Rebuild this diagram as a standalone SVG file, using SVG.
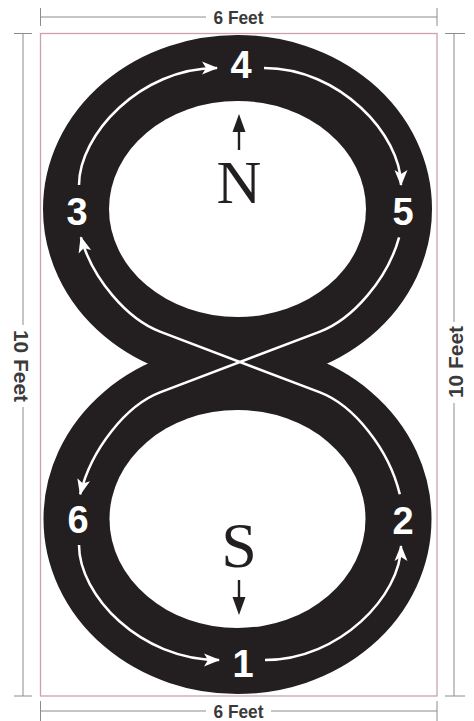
<svg xmlns="http://www.w3.org/2000/svg" width="474" height="721" viewBox="0 0 474 721">
<style>
.dim{stroke:#8c8c8c;stroke-width:1;fill:none}
.dimtxt{font-family:"Liberation Sans",Arial,sans-serif;font-weight:bold;fill:#3a3a3a;text-anchor:middle}
.loop{fill:#fff;stroke:#231f20;stroke-width:132;paint-order:stroke}
.route{fill:none;stroke:#fff;stroke-width:2.5}
.num{font-family:"Liberation Sans",Arial,sans-serif;font-weight:bold;font-size:38px;fill:#fff;text-anchor:middle}
.dir{font-family:"Liberation Serif","Times New Roman",serif;fill:#231f20;text-anchor:middle}
</style>
<defs>
<marker id="wa" markerUnits="userSpaceOnUse" markerWidth="20" markerHeight="16" viewBox="-17 -8 20 16" refX="0" refY="0" orient="auto">
<path d="M1,0 L-15,-6.5 L-11,0 L-15,6.5 Z" fill="#fff"/>
</marker>
</defs>
<rect width="474" height="721" fill="#fff"/>
<g id="frame">
<rect x="40.5" y="33.5" width="396.5" height="662.5" fill="#fff" stroke="#c9a3a9" stroke-width="1.3"/>
</g>
<g id="dimensions">
<path class="dim" d="M40.5 17H206M271 17H437M40.5 8V26M437 8V26"/>
<text class="dimtxt" x="238.5" y="24" font-size="19" textLength="50" lengthAdjust="spacingAndGlyphs">6 Feet</text>
<path class="dim" d="M40.5 711H206M271 711H437M40.5 701V721M437 701V721"/>
<text class="dimtxt" x="238.5" y="718" font-size="18" textLength="50" lengthAdjust="spacingAndGlyphs">6 Feet</text>
<path class="dim" d="M14 33.5H32M23 33.5V325M23 407V696M14 696H32"/>
<text class="dimtxt" transform="translate(22,366) rotate(90)" x="0" y="8" font-size="21" textLength="72" lengthAdjust="spacingAndGlyphs">10 Feet</text>
<path class="dim" d="M445 33.5H465M454 33.5V322M454 403V696M445 696H465"/>
<text class="dimtxt" transform="translate(455,362) rotate(-90)" x="0" y="8" font-size="21" textLength="72" lengthAdjust="spacingAndGlyphs">10 Feet</text>
</g>
<g id="track">
<ellipse class="loop" cx="237.5" cy="209" rx="128.5" ry="108"/>
<ellipse class="loop" cx="237.5" cy="519" rx="128" ry="109"/>
</g>
<g id="connectors">
<path class="route" marker-end="url(#wa)" d="M79 185C79 135 140 68 217 68"/>
<path class="route" marker-end="url(#wa)" d="M264 68C340 68 401 135 401 185"/>
<path class="route" marker-end="url(#wa)" d="M399.1 237.3C387.6 279 352.8 319.1 320 331.6L160 392.4C126.4 405.2 91 449.1 80.2 494.3"/>
<path class="route" marker-end="url(#wa)" d="M79 545C79 595 140 660 219 660"/>
<path class="route" marker-end="url(#wa)" d="M265 660C340 660 401 595 401 546"/>
<path class="route" marker-end="url(#wa)" d="M399.8 494.3C389 449.1 353.6 405.2 320 392.4L160 331.6C127.2 319.1 92.4 279 80.9 237.3"/>
</g>
<g id="n1"><text class="num" x="243" y="677">1</text></g>
<g id="n2"><text class="num" x="403" y="534">2</text></g>
<g id="n3"><text class="num" x="77" y="225">3</text></g>
<g id="n4"><text class="num" x="241" y="78">4</text></g>
<g id="n5"><text class="num" x="403" y="225">5</text></g>
<g id="n6"><text class="num" x="78" y="533">6</text></g>
<g id="north">
<path d="M239 150V128" stroke="#231f20" stroke-width="2.4"/>
<path d="M239 114L232.5 132H245.5Z" fill="#231f20"/>
<text class="dir" x="239" y="203" font-size="62">N</text>
</g>
<g id="south">
<text class="dir" x="239" y="567" font-size="64">S</text>
<path d="M239 580V600" stroke="#231f20" stroke-width="2.4"/>
<path d="M239 615L232.5 597H245.5Z" fill="#231f20"/>
</g>
</svg>
